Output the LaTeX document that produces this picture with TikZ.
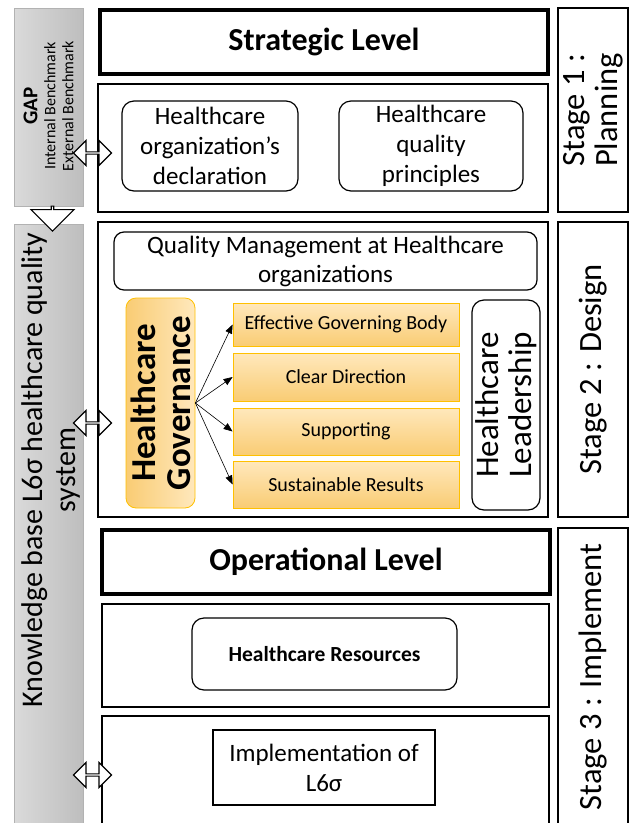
\documentclass[tikz,border=0pt]{standalone}
\usepackage{fontspec}
\setmainfont{Carlito}
\usetikzlibrary{shapes.arrows,arrows.meta}
\definecolor{govlight}{HTML}{FFE8BC}
\definecolor{govdark}{HTML}{F9CC74}
\definecolor{govline}{HTML}{FFC000}
\definecolor{gaplight}{HTML}{DADADA}
\definecolor{gapdark}{HTML}{BEBEBE}
\newcommand{\fsz}[2]{\fontsize{#1}{#2}\selectfont}
\begin{document}
\begin{tikzpicture}[x=1pt,y=-1pt]
\useasboundingbox (0,0) rectangle (638,823);
\tikzstyle{levelbox} = [
  draw, line width=3.5pt,
  minimum width=448, minimum height=64,
  font=\fsz{32}{36}\bfseries
]
\tikzstyle{framebox} = [
  draw, line width=1.3pt,
  minimum width=450, inner sep=0pt
]
\tikzstyle{softbox} = [
  draw, line width=1.2pt, rounded corners=12pt,
  align=center, inner sep=0pt
]
\tikzstyle{govbox} = [
  draw=govline, line width=0.8pt,
  top color=govlight, bottom color=govdark,
  minimum width=226, inner sep=0pt,
  font=\fsz{20}{24}
]
\tikzstyle{stagebox} = [
  draw, line width=1.3pt, rotate=90,
  minimum height=70, inner sep=0pt,
  align=center, font=\fsz{32.5}{33}
]
\tikzstyle{sidebox} = [
  draw=gray!60, line width=0.6pt,
  left color=gaplight, right color=gapdark
]
\tikzstyle{linkarrow} = [
  double arrow, draw, line width=1.2pt, fill=white,
  minimum height=38, minimum width=25,
  double arrow head extend=6pt, inner sep=0pt
]
\tikzstyle{govedge} = [
  draw, line width=0.6pt, -{Triangle[length=9pt,width=7pt]}
]

% left side bar
\path[sidebox] (14,8) rectangle (83,206);
\node [rotate=90, align=center, font=\fsz{16}{18}] (gap) at (48.5,106)
  {{\fsz{21}{22}\bfseries GAP}\\Internal Benchmark\\External Benchmark};
\path[sidebox] (14,224) rectangle (83,830);
\node [rotate=90, align=center, font=\fsz{30}{33}] (know) at (51,470)
  {Knowledge base L6σ healthcare quality\\system};
\node [single arrow, draw, line width=1.2pt, fill=white, shape border rotate=270,
  minimum height=25, minimum width=43, single arrow head extend=10pt,
  inner sep=0pt] (down) at (52.5,218) {};

% strategic level
\node [levelbox] (strategic) at (324,42) {Strategic Level};
\node [framebox, minimum height=128] (stratframe) at (323,148) {};
\node [softbox, minimum width=176, minimum height=90, font=\fsz{25}{30}] (decl) at (210,146)
  {Healthcare\\organization’s\\declaration};
\node [softbox, minimum width=184, minimum height=90, font=\fsz{25}{30}] (princ) at (431,146)
  {Healthcare\\quality\\principles};

% design
\node [framebox, minimum height=295] (designframe) at (323,369.5) {};
\node [softbox, rounded corners=10pt, minimum width=423, minimum height=58, font=\fsz{25}{29}] (qm) at (325.5,261)
  {Quality Management at Healthcare\\organizations};
\node [draw=govline, line width=0.8pt, rounded corners=10pt, rotate=90,
  left color=govdark, right color=govlight,
  minimum width=210, minimum height=69, inner sep=0pt,
  align=center, font=\fsz{35}{35}\bfseries] (gov) at (160.5,403)
  {Healthcare\\Governance};
\node [govbox, minimum height=43] (body) at (346,324.5) {Effective Governing Body};
\node [govbox, minimum height=48] (direction) at (346,377) {Clear Direction};
\node [govbox, minimum height=47] (support) at (346,431.5) {Supporting};
\node [govbox, minimum height=47] (results) at (346,484.5) {Sustainable Results};
\node [softbox, rotate=90, minimum width=210, minimum height=68, font=\fsz{33}{33}] (lead) at (506,405)
  {Healthcare\\Leadership};

\draw[govedge] (gov.south) -- (body.west);
\draw[govedge] (gov.south) -- (direction.west);
\draw[govedge] (gov.south) -- (support.west);
\draw[govedge] (gov.south) -- (results.west);

% operational level
\node [levelbox] (operational) at (326,562) {Operational Level};
\node [framebox, minimum width=447, minimum height=103] (resframe) at (325.5,655.5) {};
\node [softbox, minimum width=265, minimum height=72, font=\fsz{21.5}{24}\bfseries] (res) at (324.5,654)
  {Healthcare Resources};
\node [framebox, minimum width=447, minimum height=114] (implframe) at (325.5,773) {};
\node [draw, line width=1.2pt, minimum width=222, minimum height=75, inner sep=0pt,
  align=center, font=\fsz{25}{30}] (impl) at (324,767.5)
  {Implementation of\\L6σ};

% links to the side bar
\node [linkarrow] (linktop) at (92.5,153) {};
\node [linkarrow] (linkmid) at (92.5,423) {};
\node [linkarrow] (linklow) at (92.5,775) {};

% stages
\node [stagebox, minimum width=204] (stage1) at (593,110) {Stage 1 :\\Planning};
\node [stagebox, minimum width=295] (stage2) at (593,369.5) {Stage 2 : Design};
\node [stagebox, minimum width=298] (stage3) at (593,677) {Stage 3 : Implement};
\end{tikzpicture}
\end{document}
